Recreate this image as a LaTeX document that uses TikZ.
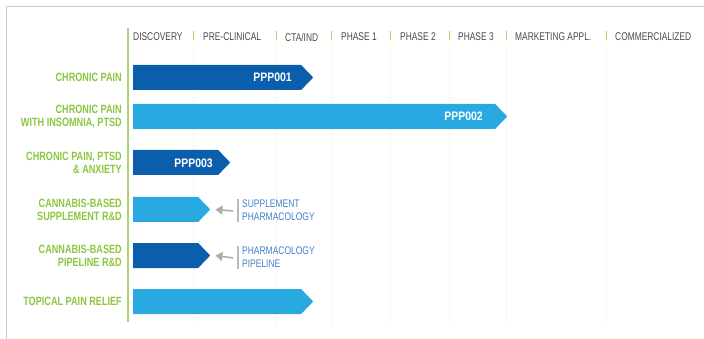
\documentclass[tikz,border=0pt]{standalone}
\usepackage{fontspec}
\setmainfont{Liberation Sans}
\newfontfamily\headfont[FakeStretch=0.75]{Liberation Sans}
\newfontfamily\rowfont[FakeStretch=0.76]{Liberation Sans}
\newfontfamily\barfont[FakeStretch=0.85]{Liberation Sans}
\newfontfamily\notefont[FakeStretch=0.77]{Liberation Sans}
\usetikzlibrary{shapes.symbols,arrows.meta}

\definecolor{framegray}{HTML}{C9CDD1}
\definecolor{axisgreen}{HTML}{A8D672}
\definecolor{labelgreen}{HTML}{8CC63F}
\definecolor{darkbar}{HTML}{0B5EAB}
\definecolor{lightbar}{HTML}{29A9E1}
\definecolor{notecolor}{HTML}{3D82C8}
\definecolor{headgray}{HTML}{4A4A4A}
\definecolor{gridgray}{HTML}{DADADA}

\tikzset{
  stage/.style={anchor=west, inner sep=0pt, text=headgray, font=\headfont\fontsize{11.2}{12}\selectfont},
  tick/.style={draw=axisgreen, line width=1pt},
  grid/.style={draw=gridgray, line width=0.6pt, dash pattern=on 1pt off 3pt},
  rowlabel/.style={anchor=east, inner sep=0pt, align=right, text=labelgreen,
    font=\rowfont\bfseries\fontsize{12}{13}\selectfont},
  pipebar/.style={signal, signal to=east, signal pointer angle=92, inner sep=0pt,
    minimum height=25pt, anchor=west, draw=none},
  barlabel/.style={anchor=east, inner sep=0pt, text=white, font=\barfont\bfseries\fontsize{12.3}{13}\selectfont},
  note/.style={anchor=west, inner sep=0pt, align=left, text=notecolor,
    font=\notefont\fontsize{11}{12.5}\selectfont},
  notebar/.style={draw=gray!55, line width=1.5pt},
  pointer/.style={draw=gray!65, line width=1.6pt, -{Triangle[length=7pt,width=9pt]}},
}

\begin{document}
\begin{tikzpicture}[x=1pt,y=-1pt]
\useasboundingbox (0,0) rectangle (704,339);

% outer frame (top and left edges)
\draw[framegray, line width=1.2pt] (704,6.5) -- (6.5,6.5) -- (6.5,339);

% stage headers
\node[stage] (h1) at (133,37) {DISCOVERY};
\node[stage] (h2) at (203,37) {PRE-CLINICAL};
\node[stage] (h3) at (285,37) {CTA/IND};
\node[stage] (h4) at (341,37) {PHASE 1};
\node[stage] (h5) at (400,37) {PHASE 2};
\node[stage] (h6) at (458,37) {PHASE 3};
\node[stage] (h7) at (515,37) {MARKETING APPL.};
\node[stage] (h8) at (615,37) {COMMERCIALIZED};

% stage separators with dotted guide lines
\foreach \x in {193,276,331,390,449,506,606} {
  \draw[tick] (\x,31) -- (\x,40);
  \draw[grid] (\x,45) -- (\x,322);
}

% main axis
\draw[axisgreen, line width=1.5pt] (128,28) -- (128,322);

% row labels
\node[rowlabel] (r1) at (122,77.5) {CHRONIC PAIN};
\node[rowlabel] (r2) at (122,117) {CHRONIC PAIN\\WITH INSOMNIA, PTSD};
\node[rowlabel] (r3) at (122,163) {CHRONIC PAIN, PTSD\\\&\ ANXIETY};
\node[rowlabel] (r4) at (122,210) {CANNABIS-BASED\\SUPPLEMENT R\&D};
\node[rowlabel] (r5) at (122,256) {CANNABIS-BASED\\PIPELINE R\&D};
\node[rowlabel] (r6) at (122,301.5) {TOPICAL PAIN RELIEF};

% pipeline bars
\node[pipebar, fill=darkbar,  minimum width=180pt] (b1) at (133,77.5) {};
\node[pipebar, fill=lightbar, minimum width=374pt] (b2) at (133,116.5) {};
\node[pipebar, fill=darkbar,  minimum width=97pt]  (b3) at (133,162.5) {};
\node[pipebar, fill=lightbar, minimum width=77pt]  (b4) at (133,209.5) {};
\node[pipebar, fill=darkbar,  minimum width=77pt]  (b5) at (133,255.5) {};
\node[pipebar, fill=lightbar, minimum width=180pt] (b6) at (133,301.5) {};

% bar labels
\node[barlabel] (l1) at (292,77.5) {PPP001};
\node[barlabel] (l2) at (483,116.5) {PPP002};
\node[barlabel] (l3) at (213,163) {PPP003};

% side notes
\draw[notebar] (238,199) -- (238,222);
\node[note] (n4) at (242,210) {SUPPLEMENT\\PHARMACOLOGY};
\draw[notebar] (238,246) -- (238,269);
\node[note] (n5) at (242,257) {PHARMACOLOGY\\PIPELINE};

\draw[pointer] (n4.west) ++(-9,1) -- ([xshift=5pt]b4.east);
\draw[pointer] (n5.west) ++(-9,1) -- ([xshift=5pt]b5.east);
\end{tikzpicture}
\end{document}
